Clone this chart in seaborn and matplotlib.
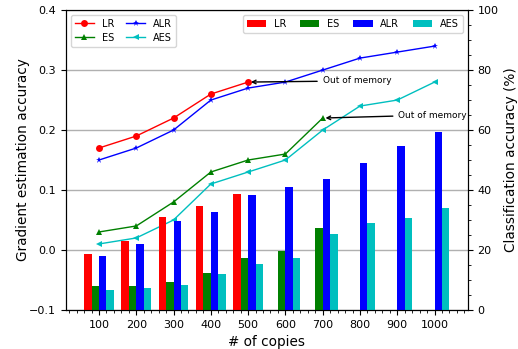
import matplotlib
matplotlib.use('Agg')
import matplotlib.pyplot as plt
from matplotlib.ticker import MultipleLocator
import seaborn as sns
import pandas as pd

copies = [100, 200, 300, 400, 500, 600, 700, 800, 900, 1000]
methods = ['LR', 'ES', 'ALR', 'AES']
colors = {'LR': 'red', 'ES': 'green', 'ALR': 'blue', 'AES': 'c'}
markers = {'LR': 'o', 'ES': '^', 'ALR': '*', 'AES': '<'}

# gradient estimation accuracy (left axis, lines)
grad_lr = [0.17, 0.19, 0.22, 0.26, 0.28]
grad_es = [0.03, 0.04, 0.08, 0.13, 0.15, 0.16, 0.22]
grad_alr = [0.15, 0.17, 0.20, 0.25, 0.27, 0.28, 0.30, 0.32, 0.33, 0.34]
grad_aes = [0.01, 0.02, 0.05, 0.11, 0.13, 0.15, 0.20, 0.24, 0.25, 0.28]

# classification accuracy in % (right axis, bars)
cls_lr = [18.6, 23.0, 31.0, 34.7, 38.7]
cls_es = [8.0, 8.0, 9.3, 12.3, 17.3, 19.7, 27.3]
cls_alr = [18.0, 22.0, 29.7, 32.7, 38.3, 41.0, 43.7, 49.0, 54.7, 59.3]
cls_aes = [6.7, 7.3, 8.3, 12.0, 15.3, 17.3, 25.3, 29.0, 30.7, 34.0]


def to_long(series, col):
    rows = []
    for name, vals in zip(methods, series):
        for c, v in zip(copies, vals):
            rows.append({'copies': c, 'method': name, col: v})
    return pd.DataFrame(rows)


grad = to_long([grad_lr, grad_es, grad_alr, grad_aes], 'grad')
cls = to_long([cls_lr, cls_es, cls_alr, cls_aes], 'acc')

fig, ax = plt.subplots(figsize=(5.18, 3.49), dpi=100)
fig.subplots_adjust(left=0.127, right=0.903, top=0.971, bottom=0.112)
ax2 = ax.twinx()

sns.lineplot(data=grad, x='copies', y='grad', hue='method', style='method',
             hue_order=methods, style_order=methods, palette=colors,
             markers=markers, dashes=False, markersize=5, linewidth=1,
             markeredgewidth=0, ax=ax)
sns.barplot(data=cls, x='copies', y='acc', hue='method', hue_order=methods,
            palette=colors, native_scale=True, errorbar=None, width=0.8,
            saturation=1, linewidth=0, ax=ax2)

ax.set_ylim(-0.1, 0.4)
ax.set_yticks([-0.1, 0.0, 0.1, 0.2, 0.3, 0.4])
ax.grid(axis='y', color='#b0b0b0', linewidth=1)
ax2.set_ylim(0, 100)
ax2.set_yticks([0, 20, 40, 60, 80, 100])
ax2.yaxis.set_minor_locator(MultipleLocator(5))
ax.set_xlim(11, 1089)
ax.set_xticks(copies)
ax.xaxis.set_minor_locator(MultipleLocator(20))

ax.set_xlabel('# of copies', fontsize=9.8)
ax.set_ylabel('Gradient estimation accuracy', fontsize=9.8, labelpad=-1)
ax2.set_ylabel('Classification accuracy (%)', fontsize=9.8)
ax.tick_params(labelsize=8)
ax2.tick_params(labelsize=8)

h, l = ax.get_legend_handles_labels()
ax.legend(h, l, loc='upper left', ncol=2, fontsize=7, columnspacing=1.2,
          labelspacing=0.4)
h2, l2 = ax2.get_legend_handles_labels()
ax2.legend(h2, l2, loc='upper right', ncol=4, fontsize=7, columnspacing=1.4)

ax.annotate('Out of memory', xy=(500, 0.28), xytext=(700, 0.282),
            fontsize=6.5, va='center',
            arrowprops=dict(arrowstyle='->', color='black', lw=1))
ax.annotate('Out of memory', xy=(700, 0.22), xytext=(903, 0.225),
            fontsize=6.5, va='center',
            arrowprops=dict(arrowstyle='->', color='black', lw=1))

fig.savefig('out.png', dpi=100)
